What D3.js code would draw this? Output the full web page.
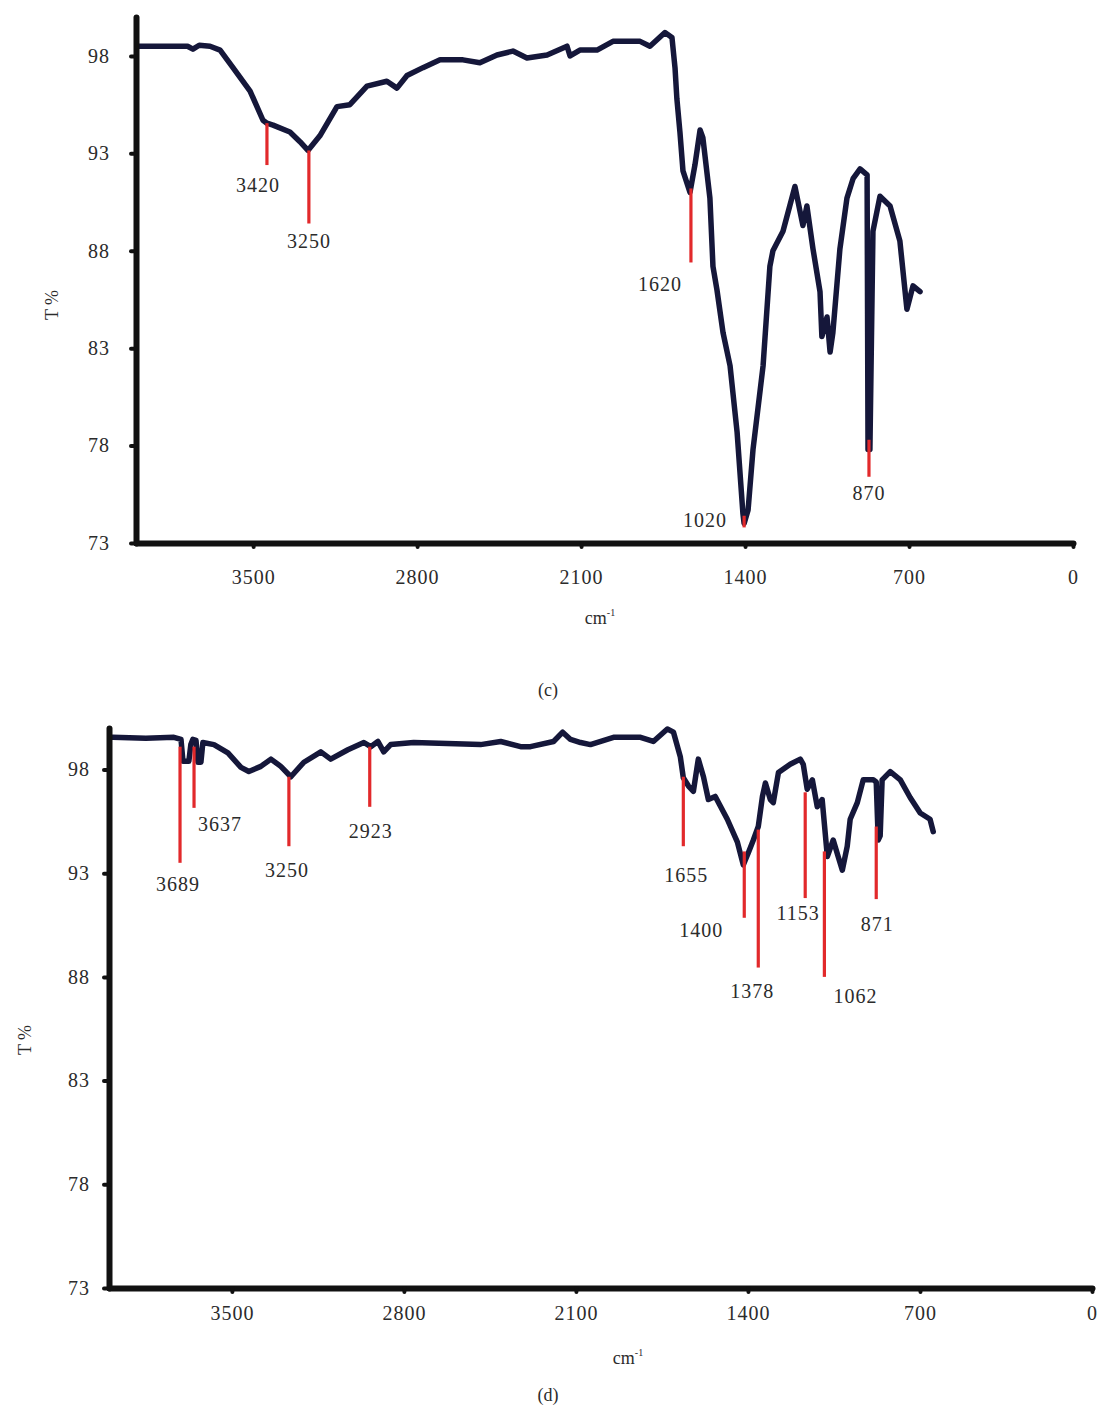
<!DOCTYPE html>
<html>
<head>
<meta charset="utf-8">
<script src="https://cdn.jsdelivr.net/npm/d3@7"></script>
<style>
    body { margin: 0; background: #fff; }
    text { font-family: "Liberation Serif", "Times New Roman", serif; fill: #2b2b2b; }
</style>
</head>
<body>
<div id="demo"></div>
<script>

// Ticks shared by both spectra.
let yTicks = [73, 78, 83, 88, 93, 98];
let xTicks = [3500, 2800, 2100, 1400, 700, 0];

// Spectrum (c): [wavenumber, T%].
let spectrumC = [
    [3995, 98.5], [3850, 98.5], [3780, 98.5], [3757, 98.35], [3730, 98.55], [3684, 98.5], [3641, 98.3],
    [3586, 97.4], [3513, 96.2], [3458, 94.7], [3441, 94.55], [3415, 94.45], [3343, 94.1], [3300, 93.6],
    [3266, 93.15], [3215, 93.9], [3142, 95.4], [3087, 95.5], [3014, 96.45], [2929, 96.7], [2886, 96.35],
    [2843, 97.0], [2775, 97.4], [2702, 97.8], [2604, 97.8], [2532, 97.65], [2459, 98.05], [2391, 98.25],
    [2331, 97.9], [2245, 98.05], [2160, 98.5], [2147, 98.0], [2105, 98.3], [2032, 98.3], [1964, 98.75],
    [1848, 98.75], [1806, 98.5], [1742, 99.2], [1712, 98.95], [1699, 97.4], [1691, 95.8], [1678, 94.1],
    [1665, 92.1], [1635, 91.0], [1614, 92.4], [1592, 94.2], [1580, 93.8], [1550, 90.7], [1537, 87.2],
    [1520, 86.0], [1494, 83.8], [1464, 82.1], [1434, 78.7], [1409, 74.5], [1404, 74.0], [1387, 74.7],
    [1366, 77.8], [1323, 82.1], [1294, 87.2], [1281, 88.0], [1238, 89.0], [1187, 91.3], [1153, 89.3],
    [1136, 90.3], [1110, 88.1], [1080, 85.9], [1072, 83.6], [1050, 84.6], [1037, 82.8], [1025, 83.8],
    [995, 88.1], [965, 90.7], [939, 91.7], [909, 92.2], [879, 91.9], [875, 77.8], [867, 77.8],
    [854, 89.0], [824, 90.8], [781, 90.3], [739, 88.5], [709, 85.0], [683, 86.2], [653, 85.9]
];

// Peaks (c): position, label, top and bottom of the red marker in T%.
let peakWnC = [3441, 3262, 1631, 1404, 871];
let peakLabelC = ["3420", "3250", "1620", "1020", "870"];
let peakTopC = [94.55, 93.15, 91.2, 74.4, 78.3];
let peakBottomC = [92.4, 89.4, 87.4, 73.8, 76.4];

// Spectrum (d).
let spectrumD = [
    [3985, 99.55], [3850, 99.5], [3736, 99.55], [3707, 99.45], [3699, 98.4], [3675, 98.4], [3667, 99.2],
    [3659, 99.45], [3646, 99.4], [3638, 98.35], [3626, 98.35], [3618, 99.3], [3573, 99.2], [3516, 98.8],
    [3463, 98.1], [3431, 97.9], [3382, 98.15], [3341, 98.5], [3301, 98.15], [3260, 97.65], [3207, 98.35],
    [3138, 98.85], [3098, 98.5], [3028, 98.95], [2963, 99.3], [2935, 99.1], [2906, 99.35], [2882, 98.85],
    [2854, 99.2], [2760, 99.3], [2488, 99.2], [2406, 99.35], [2325, 99.1], [2285, 99.1], [2191, 99.35],
    [2154, 99.8], [2122, 99.45], [2081, 99.3], [2041, 99.2], [1947, 99.55], [1837, 99.55], [1785, 99.35],
    [1728, 99.95], [1703, 99.8], [1675, 98.6], [1663, 97.6], [1642, 97.2], [1622, 96.95], [1602, 98.5],
    [1581, 97.65], [1561, 96.55], [1533, 96.7], [1484, 95.6], [1443, 94.5], [1419, 93.4], [1398, 94.0],
    [1378, 94.6], [1358, 95.25], [1341, 96.7], [1329, 97.35], [1309, 96.55], [1297, 96.4], [1276, 97.85],
    [1228, 98.25], [1187, 98.5], [1175, 98.25], [1159, 97.05], [1138, 97.5], [1118, 96.2], [1098, 96.55],
    [1077, 93.8], [1053, 94.6], [1033, 93.8], [1016, 93.15], [996, 94.3], [984, 95.6], [955, 96.4],
    [931, 97.5], [890, 97.5], [878, 97.4], [870, 94.6], [862, 94.8], [854, 97.5], [821, 97.9],
    [780, 97.5], [740, 96.65], [699, 95.9], [659, 95.6], [646, 95.0]
];

// Peaks (d).
let peakWnD = [3711, 3654, 3268, 2939, 1663, 1415, 1358, 1167, 1089, 878];
let peakLabelD = ["3689", "3637", "3250", "2923", "1655", "1400", "1378", "1153", "1062", "871"];
let peakTopD = [99.1, 99.1, 97.65, 99.1, 97.65, 94.05, 95.1, 96.9, 94.05, 95.25];
let peakBottomD = [93.5, 96.15, 94.3, 96.2, 94.3, 90.85, 88.45, 91.8, 88.0, 91.75];

// Layout of both panels (pixels).
let panels = [
    {
        spectrum: spectrumC, wn: peakWnC, label: peakLabelC, peakTop: peakTopC, peakBottom: peakBottomC,
        left: 136, right: 1073, top: 17, bottom: 543,
        yPad: 26, xLabelDy: 34,
        labelOffsets: [[-9, 20], [0, 17], [-31, 22], [-39, -7], [0, 16]],
        yTitle: [52, 305], xTitle: [600, 618], caption: [548, 690, "(c)"]
    },
    {
        spectrum: spectrumD, wn: peakWnD, label: peakLabelD, peakTop: peakTopD, peakBottom: peakBottomD,
        left: 109, right: 1092, top: 728, bottom: 1288,
        yPad: 19, xLabelDy: 25,
        labelOffsets: [[-2, 21], [26, 16], [-2, 24], [1, 24], [3, 29], [-43, 12], [-6, 23], [-7, 15], [31, 19], [1, 25]],
        yTitle: [25, 1040], xTitle: [628, 1358], caption: [548, 1395, "(d)"]
    }
];

let svg = d3.select("#demo")
    .append("svg")
    .attr("width", 1104)
    .attr("height", 1405);

panels.forEach((p) => {

    let x = d3.scaleLinear().domain([4000, 0]).range([p.left, p.right]);
    let y = d3.scaleLinear().domain([73, 100]).range([p.bottom, p.top]);

    let g = svg.append("g");

    //Drawing spectrum line.
    let line = d3.line()
        .x((d) => x(d[0]))
        .y((d) => y(d[1]));

    g.append("path")
        .datum(p.spectrum)
        .attr("d", line)
        .attr("fill", "none")
        .attr("stroke", "#15173a")
        .attr("stroke-width", 5.5)
        .attr("stroke-linejoin", "round")
        .attr("stroke-linecap", "round");

    //Red peak markers.
    g.selectAll(".peak")
        .data(p.wn)
        .enter()
        .append("line")
        .attr("class", "peak")
        .attr("x1", (d) => x(d))
        .attr("x2", (d) => x(d))
        .attr("y1", (d, i) => y(p.peakTop[i]))
        .attr("y2", (d, i) => y(p.peakBottom[i]))
        .attr("stroke", "#e2292b")
        .attr("stroke-width", 3.2);

    g.selectAll(".peak-label")
        .data(p.wn)
        .enter()
        .append("text")
        .attr("class", "peak-label")
        .attr("x", (d, i) => x(d) + p.labelOffsets[i][0])
        .attr("y", (d, i) => y(p.peakBottom[i]) + p.labelOffsets[i][1])
        .attr("dy", "0.35em")
        .attr("text-anchor", "middle")
        .style("font-size", "20px")
        .style("letter-spacing", "1px")
        .text((d, i) => p.label[i]);

    //Y axis.
    let yAxis = d3.axisLeft(y).tickValues(yTicks).tickSize(5).tickSizeOuter(0).tickPadding(p.yPad - 5);
    let ya = g.append("g")
        .attr("transform", "translate(" + p.left + ",0)")
        .call(yAxis);

    //X axis.
    let xAxis = d3.axisBottom(x).tickValues(xTicks).tickSize(4).tickSizeOuter(0).tickFormat(d3.format("d"));
    let xa = g.append("g")
        .attr("transform", "translate(0," + p.bottom + ")")
        .call(xAxis);

    [ya, xa].forEach((a) => {
        a.select(".domain")
            .attr("stroke", "#111")
            .attr("stroke-width", 6)
            .attr("stroke-linecap", "round");
        a.selectAll(".tick line")
            .attr("stroke", "#111")
            .attr("stroke-width", 4)
            .attr("stroke-linecap", "round");
        a.selectAll(".tick text")
            .attr("fill", "#2b2b2b")
            .style("font-family", "'Liberation Serif', 'Times New Roman', serif")
            .style("font-size", "20px")
            .style("letter-spacing", "1px");
    });
    xa.selectAll(".tick text").attr("dy", "0.35em").attr("y", p.xLabelDy);

    //Axis titles.
    svg.append("text")
        .attr("transform", "translate(" + p.yTitle[0] + "," + p.yTitle[1] + ") rotate(-90)")
        .attr("text-anchor", "middle")
        .attr("dy", "0.35em")
        .style("font-size", "18px")
        .text("T %");

    let xt = svg.append("text")
        .attr("x", p.xTitle[0])
        .attr("y", p.xTitle[1])
        .attr("text-anchor", "middle")
        .attr("dy", "0.35em")
        .style("font-size", "18px");
    xt.append("tspan").text("cm");
    xt.append("tspan").attr("dy", "-8").style("font-size", "10px").text("-1");

    svg.append("text")
        .attr("x", p.caption[0])
        .attr("y", p.caption[1])
        .attr("text-anchor", "middle")
        .attr("dy", "0.35em")
        .style("font-size", "18px")
        .text(p.caption[2]);
});

</script>
</body>
</html>
